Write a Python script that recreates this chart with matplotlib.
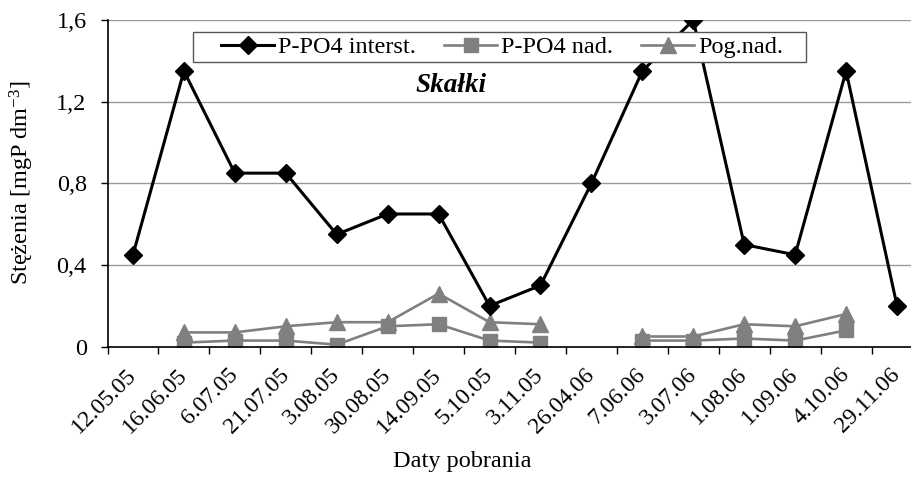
import matplotlib
matplotlib.use('Agg')
import matplotlib.pyplot as plt
from matplotlib.patches import Rectangle
import numpy as np

plt.rcParams['font.family'] = ['Liberation Serif', 'DejaVu Serif']
plt.rcParams['mathtext.fontset'] = 'custom'
plt.rcParams['mathtext.rm'] = 'Liberation Serif'
plt.rcParams['mathtext.it'] = 'Liberation Serif:italic'

dates = ['12.05.05', '16.06.05', '6.07.05', '21.07.05', '3.08.05', '30.08.05',
         '14.09.05', '5.10.05', '3.11.05', '26.04.06', '7.06.06', '3.07.06',
         '1.08.06', '1.09.06', '4.10.06', '29.11.06']
po4_interst = [0.45, 1.35, 0.85, 0.85, 0.55, 0.65, 0.65, 0.20, 0.30, 0.80,
               1.35, 1.60, 0.50, 0.45, 1.35, 0.20]
po4_nad = [np.nan, 0.02, 0.03, 0.03, 0.01, 0.10, 0.11, 0.03, 0.02, np.nan,
           0.03, 0.03, 0.04, 0.03, 0.08, np.nan]
pog_nad = [np.nan, 0.07, 0.07, 0.10, 0.12, 0.12, 0.26, 0.12, 0.11, np.nan,
           0.05, 0.05, 0.11, 0.10, 0.16, np.nan]
yticks = [0, 0.4, 0.8, 1.2, 1.6]
ytick_labels = ['0', '0,4', '0,8', '1,2', '1,6']

FS = 17.5
W, H = 911, 483
fig = plt.figure(figsize=(W / 100, H / 100), dpi=100)
ax = fig.add_axes([107.5 / W, (H - 346.7) / H, 815 / W, (346.7 - 20) / H])

x = np.arange(len(dates))
ax.plot(x, po4_interst, color='black', lw=2.2, marker='D', ms=9.5,
        label='P-PO4 interst.', zorder=5)
ax.plot(x, po4_nad, color='#808080', lw=1.9, marker='s', ms=10,
        label='P-PO4 nad.', zorder=4)
ax.plot(x, pog_nad, color='#808080', lw=1.9, marker='^', ms=11,
        label='Pog.nad.', zorder=4)

ax.set_xlim(-0.5, len(dates) - 0.5)
ax.set_ylim(0, 1.6)
ax.set_yticks(yticks)
ax.set_yticklabels(ytick_labels, fontsize=FS)
ax.set_xticks(x)
ax.set_xticklabels(dates, fontsize=17, rotation=45, ha='right',
                   rotation_mode='anchor', va='center')
ax.set_xticks(np.arange(len(dates) + 1) - 0.5, minor=True)
ax.tick_params(axis='x', which='major', length=0, pad=18)
ax.tick_params(axis='x', which='minor', length=5, width=1, direction='out')
ax.tick_params(axis='y', length=5, width=1, direction='out', pad=10)

ax.grid(axis='y', color='#999999', lw=1)
ax.set_axisbelow(True)
for s in ['top', 'right']:
    ax.spines[s].set_visible(False)
for s in ['left', 'bottom']:
    ax.spines[s].set_linewidth(1.2)
    ax.spines[s].set_zorder(6)

fig.text(22 / W, 1 - 183 / H, 'Stężenia [mgP dm$^{-3}$]', rotation=90,
         fontsize=FS, ha='center', va='center')
fig.text(462 / W, 1 - 462 / H, 'Daty pobrania', fontsize=FS,
         ha='center', va='center')
fig.text(451 / W, 1 - 86 / H, 'Skałki', fontsize=19.5, fontweight='bold',
         fontstyle='italic', ha='center', va='center')

# legend box drawn separately so it can match the original frame
fig.patches.append(Rectangle((193 / W, 1 - 62 / H), (806 - 193) / W, 30 / H,
                             transform=fig.transFigure, facecolor='white',
                             edgecolor='#555555', lw=1, zorder=3))
leg = fig.legend(loc='center left', bbox_to_anchor=(221 / W, 1 - 47 / H), ncol=3,
                 fontsize=FS, frameon=False, handlelength=2.2,
                 handletextpad=0.15, columnspacing=1.15, borderpad=0,
                 borderaxespad=0)
leg.set_zorder(4)

fig.savefig('out.png', dpi=100)
